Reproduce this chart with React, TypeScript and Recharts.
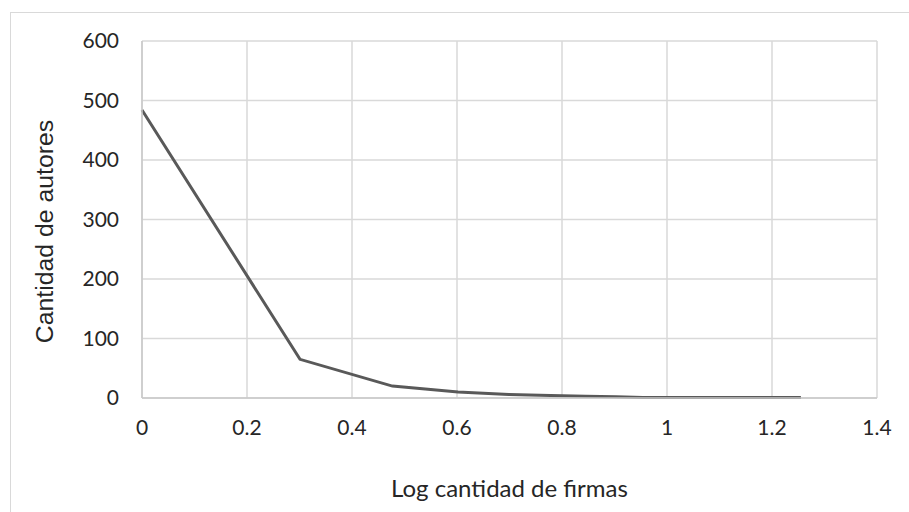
import { CartesianGrid, Label, Line, LineChart, XAxis, YAxis } from "recharts";

// log10 of number of signatures per author
const logFirmas = [
  0, 0.301, 0.477, 0.602, 0.699, 0.778, 0.845, 0.903, 0.954, 1, 1.041, 1.079,
  1.146, 1.204, 1.255,
];
const autores = [484, 65, 20, 10, 6, 4, 3, 2, 1, 1, 1, 1, 1, 1, 1];

const xTicks = [0, 0.2, 0.4, 0.6, 0.8, 1, 1.2, 1.4];
const yTicks = [0, 100, 200, 300, 400, 500, 600];

const data = logFirmas.map((x, i) => ({ x, autores: autores[i] }));

const tickFont = { fill: "#262626", fontSize: 21, fontFamily: "Lato" };

export default function App() {
  return (
    <div
      style={{
        position: "absolute",
        left: 0,
        top: 0,
        width: 909,
        height: 512,
        background: "#fff",
        overflow: "hidden",
      }}
    >
      <div
        style={{
          position: "absolute",
          left: 10,
          top: 12,
          width: 1000,
          height: 1000,
          border: "1.5px solid #d9d9d9",
        }}
      />
      <div style={{ position: "absolute", left: 0, top: 0 }}>
        <LineChart
          width={909}
          height={512}
          data={data}
          margin={{ top: 41, right: 32, bottom: 0, left: 0 }}
        >
          <CartesianGrid stroke="#d9d9d9" strokeWidth={1.5} />
          <XAxis
            dataKey="x"
            type="number"
            domain={[0, 1.4]}
            ticks={xTicks}
            tickFormatter={(v: number) => String(Number(v.toFixed(1)))}
            axisLine={{ stroke: "#c8c8c8", strokeWidth: 1.5 }}
            tickLine={false}
            tickSize={0}
            tickMargin={22}
            tick={tickFont}
            height={114}
            interval={0}
          >
            <Label
              value="Log cantidad de firmas"
              position="insideBottom"
              offset={15}
              style={{ fill: "#262626", fontSize: 24, fontFamily: "Lato" }}
            />
          </XAxis>
          <YAxis
            type="number"
            domain={[0, 600]}
            ticks={yTicks}
            axisLine={{ stroke: "#c8c8c8", strokeWidth: 1.5 }}
            tickLine={false}
            tickSize={0}
            tickMargin={23}
            tick={tickFont}
            width={142}
            interval={0}
          >
            <Label
              content={({ viewBox }: any) => {
                const cx = 53;
                const cy = viewBox.y + viewBox.height / 2 + 12;
                return (
                  <text
                    x={cx}
                    y={cy}
                    transform={`rotate(-90, ${cx}, ${cy})`}
                    textAnchor="middle"
                    fill="#262626"
                    fontSize={24.8}
                    fontFamily="Liberation Sans"
                  >
                    Cantidad de autores
                  </text>
                );
              }}
            />
          </YAxis>
          <Line
            type="linear"
            dataKey="autores"
            stroke="#595959"
            strokeWidth={3}
            dot={false}
            isAnimationActive={false}
          />
        </LineChart>
      </div>
    </div>
  );
}
